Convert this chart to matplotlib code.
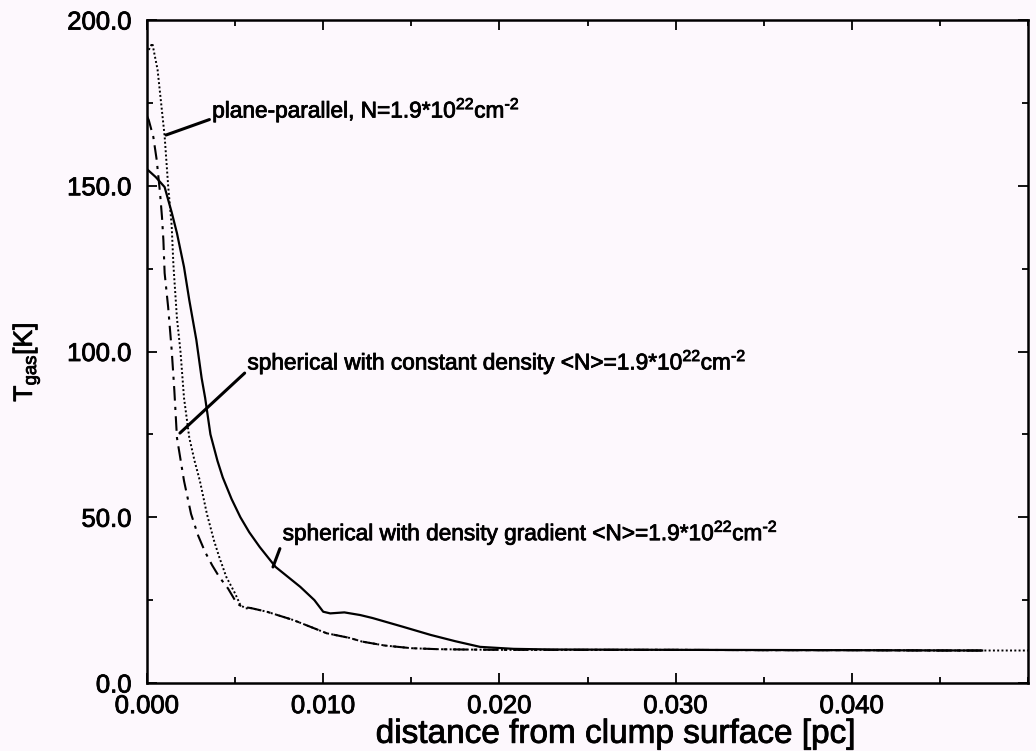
import numpy as np
import matplotlib
matplotlib.use("Agg")
import matplotlib.pyplot as plt
import matplotlib.patheffects as pe
from matplotlib.ticker import MultipleLocator, FormatStrFormatter

plt.rcParams.update({"font.family": "Liberation Sans",
                     "mathtext.fontset": "custom",
                     "mathtext.rm": "Liberation Sans",
                     "mathtext.it": "Liberation Sans",
                     "text.color": "black"})

BG = "#fdf8fd"
THICK = [pe.withStroke(linewidth=0.6, foreground="black")]

# plane-parallel slab (dotted)
x_pp = [0.0001, 0.0003, 0.0006, 0.0008, 0.0010, 0.0012, 0.0014, 0.0015,
        0.0017, 0.0019, 0.0021, 0.0024, 0.0027, 0.0030, 0.0034, 0.0038,
        0.0041, 0.0045, 0.0050, 0.0053, 0.0056, 0.0059, 0.0068, 0.0083,
        0.0102, 0.0115, 0.0122, 0.0135, 0.0150, 0.0165, 0.0180, 0.0200,
        0.0250, 0.0300, 0.0350, 0.0400, 0.0450, 0.0500]
T_pp = [191, 193, 185, 175, 165, 150, 138, 126, 110, 100, 86, 74, 67, 61,
        51, 43, 38, 32, 27, 23.5, 22.5, 22.6, 21.5, 19, 15, 13.6, 12.5,
        11.3, 10.5, 10.2, 10.1, 10, 10, 10, 9.9, 9.9, 9.8, 9.8]

# spherical, constant density (dash-dot)
x_cd = [0.0, 0.0001, 0.00036, 0.00055, 0.00074, 0.00085, 0.00093, 0.0010,
        0.0012, 0.0014, 0.00155, 0.0017, 0.0021, 0.0025, 0.0029, 0.0033,
        0.0037, 0.0041, 0.0046, 0.0051, 0.0054, 0.0059, 0.0068, 0.0083,
        0.0102, 0.0115, 0.0122, 0.0135, 0.0150, 0.0165, 0.0180, 0.0200,
        0.0250, 0.0300, 0.0350, 0.0400, 0.0450, 0.0474]
T_cd = [171, 169.8, 164.7, 157.8, 147.8, 140.6, 133.6, 123.7, 113.4, 100.5,
        88.4, 74, 61, 51, 44.5, 39.5, 35.5, 32, 28.5, 24, 23, 22.6, 21.5,
        19, 15, 13.6, 12.5, 11.3, 10.5, 10.2, 10.1, 10, 10, 10, 9.9, 9.9,
        9.8, 9.8]

# spherical, density gradient (solid)
x_dg = [0.0, 0.0005, 0.0010, 0.0014, 0.0017, 0.0021, 0.0024, 0.0028, 0.0031,
        0.0033, 0.0036, 0.0040, 0.0043, 0.0048, 0.0053, 0.0058, 0.0064,
        0.0073, 0.0080, 0.0087, 0.0095, 0.0100, 0.0104, 0.0112, 0.0121,
        0.0128, 0.0145, 0.0161, 0.0175, 0.0189, 0.0208, 0.0230, 0.0300,
        0.0400, 0.0474]
T_dg = [155, 152.6, 149.6, 142, 135.7, 125.5, 115.5, 103.5, 92, 86, 75, 67,
        62, 55.5, 50, 45.5, 41, 35, 32, 29, 25, 21.5, 21.0, 21.3, 20.5, 19.6,
        17, 14.5, 12.6, 10.9, 10.3, 10.1, 10, 9.9, 9.8]

x_ticks = [0.0, 0.01, 0.02, 0.03, 0.04]
y_ticks = [0, 50, 100, 150, 200]

fig = plt.figure(figsize=(10.36, 7.51), dpi=100, facecolor=BG)
ax = fig.add_axes([147 / 1036, 1 - 683 / 751, 881 / 1036, 663 / 751])
ax.set_facecolor(BG)

ax.plot(x_pp, T_pp, color="black", lw=1.4, linestyle=(0, (1, 1.2)))
ax.plot(x_cd, T_cd, color="black", lw=1.5, linestyle=(0, (7, 3, 1.5, 3)))
ax.plot(x_dg, T_dg, color="black", lw=1.6)

ax.set_xlim(0, 0.05)
ax.set_ylim(0, 200)
ax.set_xticks(x_ticks)
ax.set_yticks(y_ticks)
ax.xaxis.set_minor_locator(MultipleLocator(0.005))
ax.yaxis.set_minor_locator(MultipleLocator(25))
ax.xaxis.set_major_formatter(FormatStrFormatter("%.3f"))
ax.yaxis.set_major_formatter(FormatStrFormatter("%.1f"))
ax.tick_params(which="both", direction="in", top=True, right=True,
               width=1.3, labelsize=18.5)
ax.tick_params(which="major", length=7)
ax.tick_params(which="minor", length=4)
ax.tick_params(axis="x", pad=8)
ax.tick_params(axis="y", pad=11)
for s in ax.spines.values():
    s.set_linewidth(1.8)
for t in ax.get_xticklabels() + ax.get_yticklabels():
    t.set_path_effects(THICK)

ax.set_xlabel("distance from clump surface [pc]", fontsize=24,
              path_effects=THICK)
ax.xaxis.set_label_coords(0.532, -0.054)
ax.set_ylabel(r"T$_{\rm gas}$[K]", fontsize=19, path_effects=THICK)
ax.yaxis.set_label_coords(-0.119, 0.484)

sup = r"1.9*10$^{22}$cm$^{\text{-2}}$"
lab = dict(fontsize=16.3, ha="left", va="center", path_effects=THICK)
arrow = dict(arrowstyle="-", color="black", lw=2.2, shrinkA=0, shrinkB=0,
             relpos=(0, 0.2))
ax.annotate("plane-parallel, N=" + sup,
            xy=(0.00108, 165.3), xytext=(0.0037, 173),
            arrowprops=arrow, **lab)
ax.annotate("spherical with constant density <N>=" + sup,
            xy=(0.00187, 75.4), xytext=(0.0057, 97),
            arrowprops=arrow, **lab)
ax.annotate("spherical with density gradient <N>=" + sup,
            xy=(0.00715, 35), xytext=(0.0077, 45.5),
            arrowprops=arrow, **lab)

fig.savefig("out.png", dpi=100, facecolor=BG)
